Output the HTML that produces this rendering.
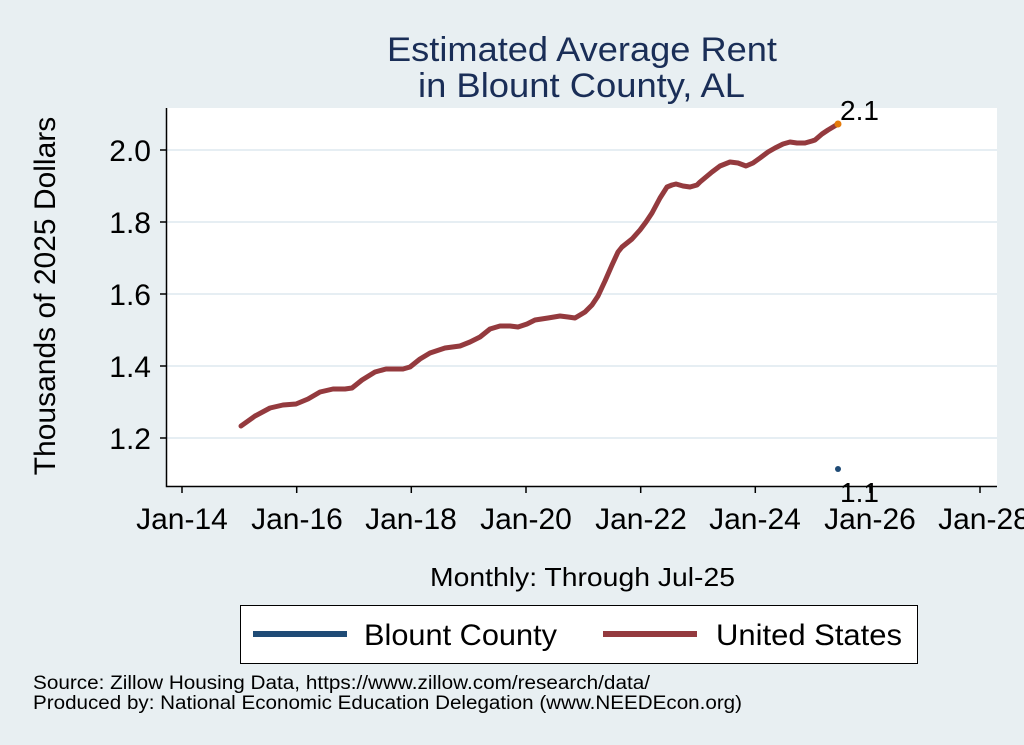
<!DOCTYPE html>
<html><head><meta charset="utf-8"><style>
body{margin:0;background:#e8eff2;}
svg{display:block;font-family:"Liberation Sans",sans-serif;}
</style></head><body>
<svg width="1024" height="745" viewBox="0 0 1024 745">
<rect width="1024" height="745" fill="#e8eff2"/>
<text x="387" y="61" font-size="34" fill="#1a2e57" textLength="390" lengthAdjust="spacingAndGlyphs">Estimated Average Rent</text>
<text x="418" y="97" font-size="34" fill="#1a2e57" textLength="327" lengthAdjust="spacingAndGlyphs">in Blount County, AL</text>
<rect x="166" y="108" width="831" height="378" fill="#fff"/>
<g stroke="#e6eef3" stroke-width="2">
<line x1="166" y1="150" x2="997" y2="150"/><line x1="166" y1="222" x2="997" y2="222"/>
<line x1="166" y1="294" x2="997" y2="294"/><line x1="166" y1="366" x2="997" y2="366"/>
<line x1="166" y1="438" x2="997" y2="438"/></g>
<g stroke="#000" stroke-width="1.5" fill="none">
<path d="M166.5 108 V486.5 H997"/>
<line x1="160" y1="150" x2="166" y2="150"/><line x1="160" y1="222" x2="166" y2="222"/>
<line x1="160" y1="294" x2="166" y2="294"/><line x1="160" y1="366" x2="166" y2="366"/>
<line x1="160" y1="438" x2="166" y2="438"/>
<line x1="182" y1="486" x2="182" y2="493"/><line x1="296.7" y1="486" x2="296.7" y2="493"/>
<line x1="411.3" y1="486" x2="411.3" y2="493"/><line x1="526" y1="486" x2="526" y2="493"/>
<line x1="640.7" y1="486" x2="640.7" y2="493"/><line x1="755.3" y1="486" x2="755.3" y2="493"/>
<line x1="870" y1="486" x2="870" y2="493"/><line x1="980" y1="486" x2="980" y2="493"/></g>
<g font-size="30" text-anchor="end" fill="#000">
<text x="151" y="161">2.0</text><text x="151" y="233">1.8</text><text x="151" y="305">1.6</text>
<text x="151" y="377">1.4</text><text x="151" y="449">1.2</text></g>
<g font-size="30" text-anchor="middle" fill="#000">
<text x="182" y="529">Jan-14</text><text x="297" y="529">Jan-16</text><text x="411" y="529">Jan-18</text>
<text x="526" y="529">Jan-20</text><text x="641" y="529">Jan-22</text><text x="755" y="529">Jan-24</text>
<text x="870" y="529">Jan-26</text><text x="984" y="529">Jan-28</text></g>
<text transform="translate(55,296) rotate(-90)" font-size="30" text-anchor="middle">Thousands of 2025 Dollars</text>
<text x="430" y="586" font-size="26" textLength="305" lengthAdjust="spacingAndGlyphs">Monthly: Through Jul-25</text>
<polyline fill="none" stroke="#943a3e" stroke-width="5" stroke-linejoin="round" stroke-linecap="round"
points="241,426 255,416 270,408 283,405 296,404 308,399 320,392 333,389 345,389 352,388 362,380 375,372 386,369 395,369 403,369 410,367 420,359 430,353 445,348 460,346 470,342 480,337 490,329 500,326 510,326 518,327 527,324 535,320 548,318 560,316 568,317 575,318 585,312 592,305 598,296 605,281 612,265 618,252 622,247 632,239 640,230 646,222 652,213 660,198 667,187 672,185 676,184 683,186 690,187 697,185 700,182 712,172 720,166 730,162 738,163 746,166 753,163 760,158 768,152 775,148 783,144 790,142 797,143 805,143 812,141 815,140 822,134 828,130 838,124"/>
<circle cx="838" cy="124" r="3.5" fill="#e57a0a"/>
<circle cx="838" cy="469" r="3" fill="#1f4b76"/>
<text x="840" y="120" font-size="28">2.1</text>
<text x="840" y="502" font-size="28">1.1</text>
<rect x="240.5" y="605.5" width="677" height="58" fill="#fff" stroke="#000" stroke-width="1"/>
<line x1="253" y1="634" x2="347" y2="634" stroke="#1f4b76" stroke-width="6"/>
<text x="364" y="645" font-size="30" textLength="193" lengthAdjust="spacingAndGlyphs">Blount County</text>
<line x1="603" y1="634" x2="697" y2="634" stroke="#943a3e" stroke-width="6"/>
<text x="716" y="645" font-size="30" textLength="186" lengthAdjust="spacingAndGlyphs">United States</text>
<text x="33" y="689" font-size="19" textLength="617" lengthAdjust="spacingAndGlyphs">Source: Zillow Housing Data, https://www.zillow.com/research/data/</text>
<text x="33" y="709" font-size="19" textLength="709" lengthAdjust="spacingAndGlyphs">Produced by: National Economic Education Delegation (www.NEEDEcon.org)</text>
</svg>
</body></html>
